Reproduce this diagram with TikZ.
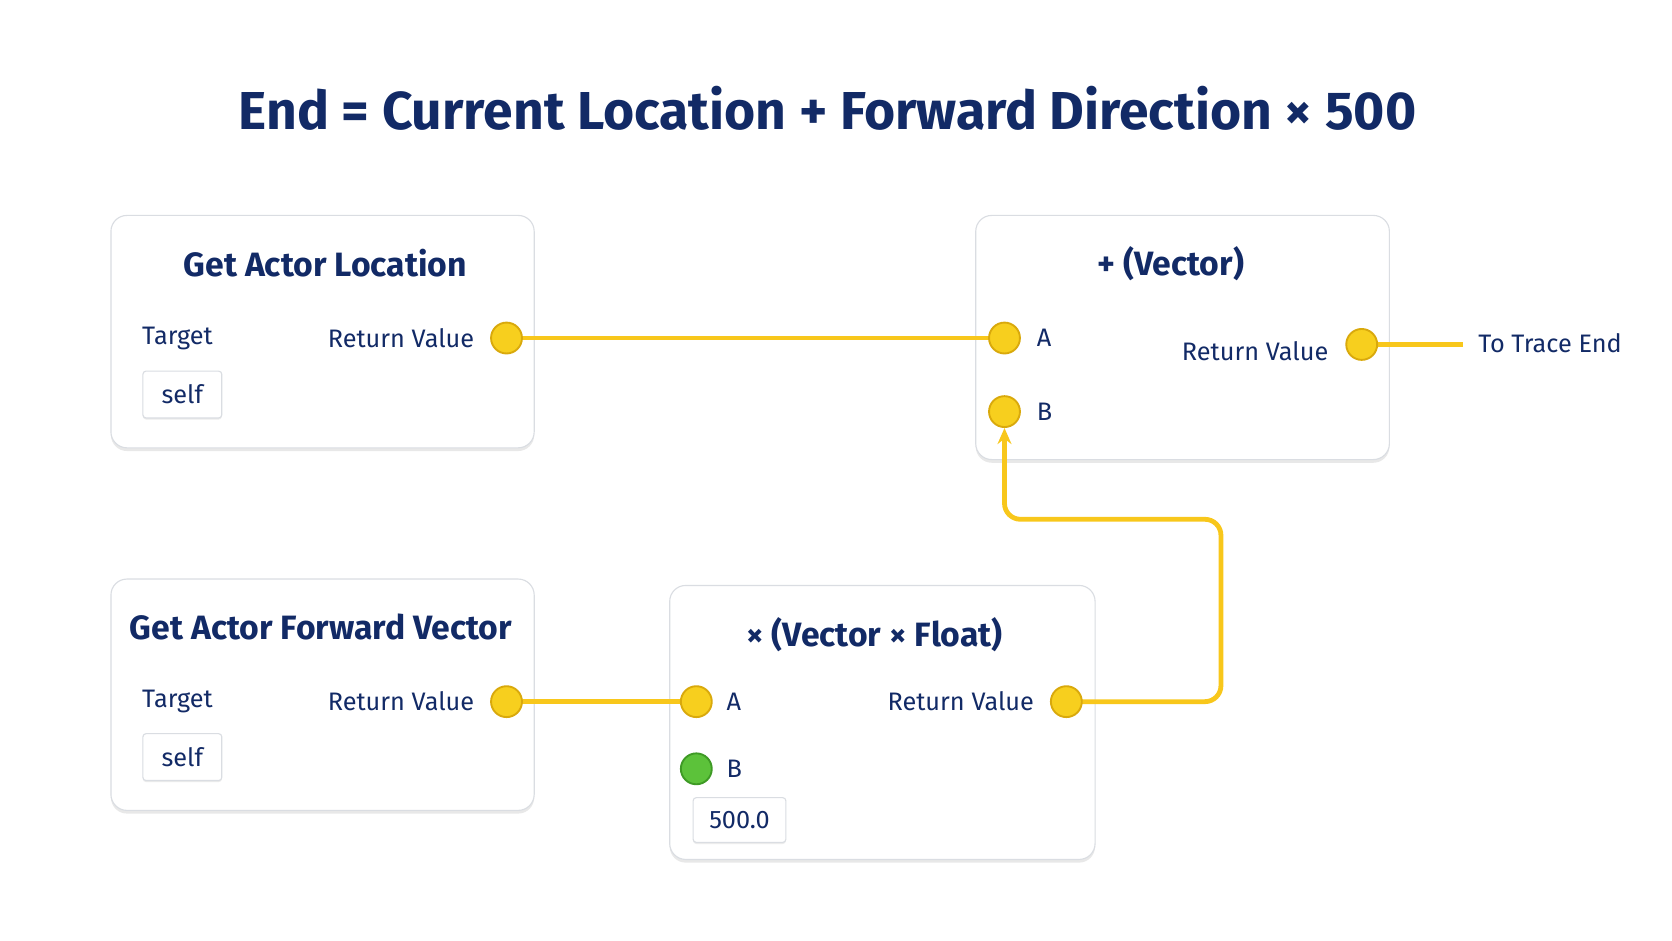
\documentclass[tikz,border=0pt]{standalone}
\usepackage{fontspec}
\setmainfont{Fira Sans}
\usetikzlibrary{positioning,shadows,arrows.meta}
\definecolor{navy}{HTML}{122A66}
\definecolor{pinyellow}{HTML}{F7CF1E}
\definecolor{pinedge}{HTML}{D9A90C}
\definecolor{pingreen}{HTML}{5CC23A}
\definecolor{pingedge}{HTML}{3E9A25}
\definecolor{boxedge}{HTML}{DADDE2}
\begin{document}
\begin{tikzpicture}[x=0.02cm,y=-0.02cm]

  % Styles
  \tikzstyle{every node}=[text=navy,inner sep=0pt]
  \tikzstyle{box}=[draw=boxedge,fill=white,rounded corners=0.3cm,line width=0.6pt,
    drop shadow={shadow xshift=0pt,shadow yshift=-0.06cm,opacity=0.18}]
  \tikzstyle{field}=[draw=boxedge,fill=white,rounded corners=0.06cm,line width=0.6pt,
    drop shadow={shadow xshift=0pt,shadow yshift=-0.03cm,opacity=0.15}]
  \tikzstyle{ntitle}=[font=\fontsize{18}{22}\selectfont\bfseries]
  \tikzstyle{lbl}=[font=\fontsize{13.5}{16}\selectfont]
  \tikzstyle{pin}=[circle,draw=pinedge,fill=pinyellow,line width=1pt,minimum size=0.58cm]
  \tikzstyle{gpin}=[pin,draw=pingedge,fill=pingreen]
  \tikzstyle{wire}=[pinyellow!90!orange,line width=0.09cm,rounded corners=0.3cm]

  % \pinnode{<id>}{<pos>}
  \newcommand{\pinnode}[2]{\node[pin] (#1) at #2 {};}

  \useasboundingbox (0,0) rectangle (1568,882);

  % Title
  \node[font=\fontsize{28.5}{34}\selectfont\bfseries] (title) at (776,102)
    {End = Current Location + Forward Direction × 500};

  % Get Actor Location
  \node[box,minimum width=7.94cm,minimum height=4.36cm] (loc) at (302.5,311) {};
  \node[ntitle] (loc-title) at (305,247) {Get Actor Location};
  \node[lbl,anchor=west] (loc-target) at (133,317) {Target};
  \node[field,minimum width=1.48cm,minimum height=0.88cm,lbl] (loc-self) at (171,370) {self};
  \node[lbl,anchor=east] (loc-ret) at (445,317) {Return Value};

  % Get Actor Forward Vector
  \node[box,minimum width=7.94cm,minimum height=4.34cm] (fwd) at (302.5,651.5) {};
  \node[ntitle] (fwd-title) at (301,588) {Get Actor Forward Vector};
  \node[lbl,anchor=west] (fwd-target) at (133,658) {Target};
  \node[field,minimum width=1.48cm,minimum height=0.88cm,lbl] (fwd-self) at (171,710) {self};
  \node[lbl,anchor=east] (fwd-ret) at (445,658) {Return Value};

  % + (Vector)
  \node[box,minimum width=7.76cm,minimum height=4.58cm] (add) at (1109,316.5) {};
  \node[ntitle] (add-title) at (1098,247) {+ (Vector)};
  \node[lbl,anchor=west] (add-a-lbl) at (972,317) {A};
  \pinnode{add-b}{(942,386)}
  \node[lbl,anchor=west] (add-b-lbl) at (972,386) {B};
  \node[lbl,anchor=east] (add-ret) at (1246,329) {Return Value};
  \coordinate (trace) at (1372,323);
  \node[lbl,anchor=west] (trace-lbl) at (1386,322) {To Trace End};

  % x (Vector x Float)
  \node[box,minimum width=7.98cm,minimum height=5.14cm] (mul) at (827.5,677.5) {};
  \node[ntitle] (mul-title) at (820,595) {× (Vector × Float)};
  \node[lbl,anchor=west] (mul-a-lbl) at (681,658) {A};
  \node[gpin] (mul-b) at (653,721) {};
  \node[lbl,anchor=west] (mul-b-lbl) at (681,721) {B};
  \node[field,minimum width=1.74cm,minimum height=0.84cm,lbl] (mul-val) at (693.5,769) {500.0};
  \node[lbl,anchor=east] (mul-ret) at (970,658) {Return Value};

  % Wires
  \draw[wire] (475,317) -- (942,317);
  \draw[wire] (475,658) -- (653,658);
  \draw[wire] (1277,323) -- (trace);
  \draw[wire,-{Stealth[length=0.3cm,width=0.26cm]}] (1000,658) -- (1145,658) -- (1145,487)
    -- (942,487) -- (add-b.south);

  % Pins on top of wires
  \pinnode{loc-out}{(475,317)}
  \pinnode{fwd-out}{(475,658)}
  \pinnode{add-a}{(942,317)}
  \pinnode{add-out}{(1277,323)}
  \pinnode{mul-a}{(653,658)}
  \pinnode{mul-out}{(1000,658)}

\end{tikzpicture}
\end{document}
